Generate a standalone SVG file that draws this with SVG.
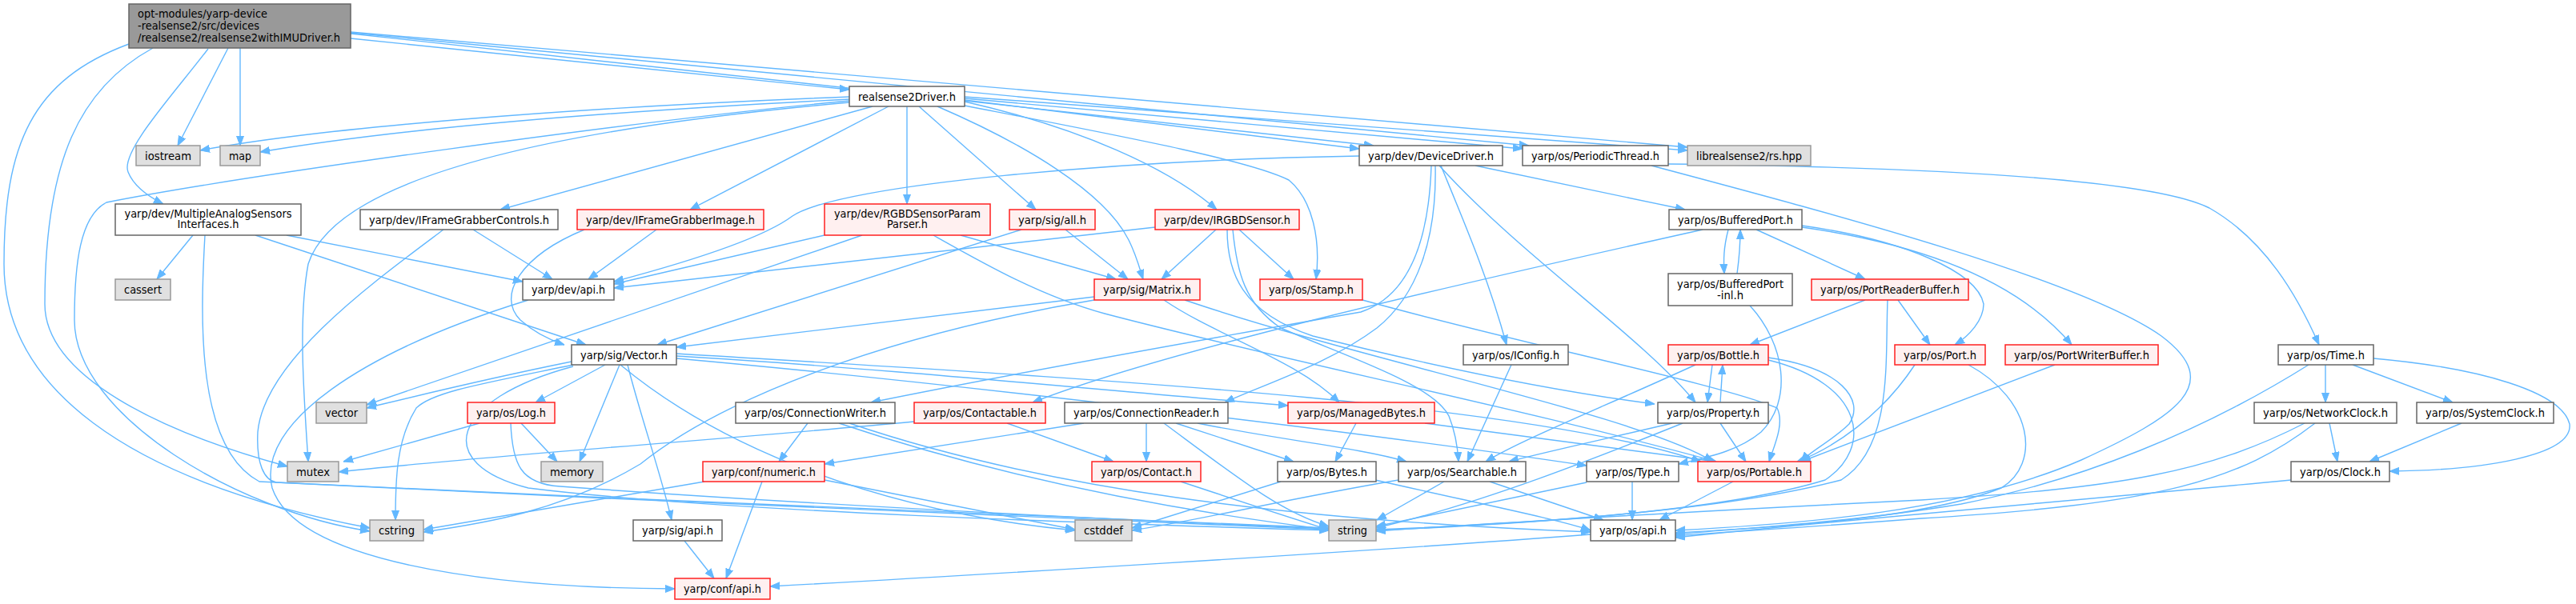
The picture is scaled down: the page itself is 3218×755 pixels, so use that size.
<svg xmlns="http://www.w3.org/2000/svg" width="3218" height="755" viewBox="0 0 3218 755">
<style>
.bg{fill:#ffffff}
.e path{fill:none;stroke:#63b8ff;stroke-width:1.4;marker-end:url(#ah)}
.n{fill:#ffffff;stroke:#666666;stroke-width:1.5}
.s{fill:#e0e0e0;stroke:#999999;stroke-width:1.5}
.r{fill:#fff0f0;stroke:#ff2020;stroke-width:1.5}
.root{fill:#999999;stroke:#666666;stroke-width:1.5}
text{font-family:"DejaVu Sans Condensed","DejaVu Sans","Liberation Sans",sans-serif;font-size:14px;fill:#000000;text-anchor:middle}
text.l{text-anchor:start}
</style>
<defs>
<marker id="ah" markerWidth="12" markerHeight="10" refX="12" refY="5" orient="auto" markerUnits="userSpaceOnUse">
<path d="M0,0.5 L12,5 L0,9.5 z" fill="#63b8ff" stroke="#63b8ff" stroke-width="1"/>
</marker>
</defs>
<rect class="bg" x="0" y="0" width="3218" height="755"/>
<g id="edges" class="e">
<path d="M438,48 L1061,112"/>
<path d="M438,42 L1716,182"/>
<path d="M438,41 L1910,182"/>
<path d="M438,40 L2108,184"/>
<path d="M285,60 L222,182"/>
<path d="M300,60 L300,182"/>
<path d="M260,61 C215,120 150,190 160,215 C168,235 190,248 204,255"/>
<path d="M191,60 C100,110 56,200 56,380 C56,470 200,540 359,583"/>
<path d="M161,55 C40,100 5,180 5,330 C5,480 150,600 462,660"/>
<path d="M1061,121 C700,135 400,160 250,188"/>
<path d="M1061,124 C750,140 500,160 325,190"/>
<path d="M1061,126 C800,150 300,220 133,253 C100,270 93,330 93,400 C93,520 300,640 462,664"/>
<path d="M1061,128 C700,160 420,220 385,330 C372,400 380,500 385,577"/>
<path d="M1090,133 L625,262"/>
<path d="M1110,133 L862,262"/>
<path d="M1133,133 L1133,255"/>
<path d="M1148,133 L1294,262"/>
<path d="M1171,133 C1280,180 1380,240 1410,300 C1420,320 1425,340 1428,349"/>
<path d="M1205,127 C1350,160 1460,210 1520,262"/>
<path d="M1205,125 L1698,186"/>
<path d="M1205,123 L1902,186"/>
<path d="M1205,121 L2108,188"/>
<path d="M1205,132 C1400,170 1560,200 1610,225 C1640,250 1650,300 1644,349"/>
<path d="M241,294 L196,349"/>
<path d="M256,294 C250,400 245,560 324,602 C800,625 1400,650 1660,660"/>
<path d="M319,294 L732,431"/>
<path d="M358,294 L653,352"/>
<path d="M591,287 L690,349"/>
<path d="M554,287 C470,350 330,450 322,540 C320,580 330,600 345,603 C800,626 1400,652 1660,662"/>
<path d="M820,287 L735,349"/>
<path d="M730,287 C650,320 620,370 650,400 C670,418 690,426 705,431"/>
<path d="M1030,294 L767,355"/>
<path d="M1077,294 L458,506"/>
<path d="M1200,294 L1394,349"/>
<path d="M1166,294 C1230,330 1300,370 1380,392 C1600,450 1900,510 2144,577"/>
<path d="M1276,287 L821,431"/>
<path d="M1331,287 L1409,349"/>
<path d="M1443,284 L767,360"/>
<path d="M1519,287 L1451,349"/>
<path d="M1548,287 L1616,349"/>
<path d="M1533,287 C1533,340 1550,390 1640,420 C1800,460 1950,490 2067,505"/>
<path d="M1540,287 C1545,340 1555,380 1600,410 C1680,445 1790,480 1810,520 C1818,540 1821,560 1822,577"/>
<path d="M1367,371 L845,434"/>
<path d="M1367,375 C1100,420 900,500 800,580 C700,640 600,655 529,665"/>
<path d="M1454,375 C1520,420 1620,450 1673,503"/>
<path d="M1480,375 C1700,450 2050,520 2140,577"/>
<path d="M1702,375 C1900,430 2150,480 2220,510 C2230,530 2215,560 2210,577"/>
<path d="M1698,195 C1400,200 1050,230 990,270 C950,300 850,330 767,352"/>
<path d="M1843,207 L2105,262"/>
<path d="M1800,207 C1830,280 1860,350 1882,431"/>
<path d="M1798,207 C1900,320 2050,420 2118,503"/>
<path d="M1788,207 C1785,300 1760,370 1700,390 C1500,425 1250,470 1088,503"/>
<path d="M1793,207 C1795,300 1770,370 1720,410 C1660,455 1580,480 1530,503"/>
<path d="M2127,287 C1800,360 1450,440 1290,503"/>
<path d="M2063,207 C2300,270 2600,350 2700,420 C2780,480 2720,520 2600,575 C2450,640 2250,655 2093,663"/>
<path d="M2084,205 C2500,210 2700,230 2760,260 C2830,300 2870,370 2897,431"/>
<path d="M2159,287 C2153,310 2153,325 2154,342"/>
<path d="M2170,342 C2173,320 2174,300 2174,287"/>
<path d="M2194,287 L2330,349"/>
<path d="M2251,282 C2380,300 2470,340 2478,380 C2478,400 2460,420 2442,431"/>
<path d="M2251,284 C2400,305 2520,350 2588,431"/>
<path d="M2186,382 C2230,430 2240,500 2200,540 C2170,565 2130,572 2097,580"/>
<path d="M2330,375 L2186,431"/>
<path d="M2371,375 L2411,431"/>
<path d="M2358,375 C2355,450 2365,560 2300,600 C2150,640 1900,655 1719,662"/>
<path d="M2392,456 C2350,520 2290,560 2245,577"/>
<path d="M2459,456 C2540,500 2550,580 2500,610 C2400,650 2200,660 2093,666"/>
<path d="M2567,456 L2250,577"/>
<path d="M2884,456 C2750,540 2600,600 2450,630 C2300,655 2150,662 2093,668"/>
<path d="M2905,456 L2905,503"/>
<path d="M2939,456 L3064,503"/>
<path d="M2965,448 C3100,460 3200,490 3210,530 C3215,570 3100,588 2985,589"/>
<path d="M2910,529 L2920,577"/>
<path d="M2879,529 C2760,590 2650,610 2400,625 C2100,640 1850,655 1719,664"/>
<path d="M2892,529 C2800,600 2700,630 2400,648 C2250,660 2150,665 2093,670"/>
<path d="M3075,529 L2960,577"/>
<path d="M2862,600 C2600,625 2300,650 2093,672"/>
<path d="M2139,456 L2133,503"/>
<path d="M2149,503 L2152,456"/>
<path d="M2118,456 C2000,510 1900,550 1856,577"/>
<path d="M2209,447 C2300,460 2330,500 2310,530 C2290,550 2260,565 2250,577"/>
<path d="M2209,450 C2330,480 2340,560 2280,600 C2150,640 1900,655 1719,663"/>
<path d="M2089,529 C2000,550 1930,565 1885,577"/>
<path d="M2149,529 L2181,577"/>
<path d="M2102,529 C2000,570 1850,630 1719,660"/>
<path d="M1888,456 L1833,577"/>
<path d="M1694,529 L1668,577"/>
<path d="M1780,529 L2144,577"/>
<path d="M1804,602 L1720,650"/>
<path d="M1861,602 L2003,650"/>
<path d="M1747,600 C1600,625 1500,650 1414,663"/>
<path d="M1982,603 L1719,658"/>
<path d="M2039,602 L2039,650"/>
<path d="M2165,602 L2073,650"/>
<path d="M1600,602 L1414,660"/>
<path d="M1718,600 C1850,630 1950,650 1987,663"/>
<path d="M1009,529 L973,577"/>
<path d="M1048,529 C1200,580 1400,630 1660,662"/>
<path d="M1061,529 C1300,610 1600,650 1987,665"/>
<path d="M1142,527 C900,550 600,570 423,590"/>
<path d="M1258,529 L1391,577"/>
<path d="M1354,529 L1030,580"/>
<path d="M1432,529 L1432,577"/>
<path d="M1469,529 L1616,577"/>
<path d="M1454,529 C1550,600 1600,640 1660,658"/>
<path d="M1496,529 C1600,550 1700,560 1757,577"/>
<path d="M1475,602 C1560,630 1620,650 1660,662"/>
<path d="M880,602 L529,662"/>
<path d="M1030,600 L1343,662"/>
<path d="M952,602 L907,723"/>
<path d="M855,676 L892,723"/>
<path d="M1987,668 C1700,690 1200,720 962,733"/>
<path d="M660,375 C450,440 320,530 340,610 C370,700 600,735 843,736"/>
<path d="M714,452 C600,475 520,495 458,510"/>
<path d="M716,456 C600,480 540,490 520,510 C495,550 494,600 494,650"/>
<path d="M756,456 L669,503"/>
<path d="M774,456 L724,577"/>
<path d="M784,456 C800,520 825,590 839,650"/>
<path d="M716,458 C560,500 540,580 660,610 C900,640 1400,655 1660,663"/>
<path d="M845,445 C1100,460 1400,490 1609,507"/>
<path d="M845,442 C1300,470 1900,500 2125,577"/>
<path d="M845,448 C1200,480 1700,540 1982,582"/>
<path d="M775,456 C900,560 1100,640 1343,663"/>
<path d="M599,529 L429,577"/>
<path d="M651,529 L696,577"/>
<path d="M638,529 C640,580 650,605 700,608 C1000,630 1400,650 1660,661"/>
</g>
<g id="n_root"><rect class="root" x="161" y="5" width="277" height="55"/><text class="l" x="172" y="22" textLength="162" lengthAdjust="spacingAndGlyphs">opt-modules/yarp-device</text><text class="l" x="172" y="37" textLength="152" lengthAdjust="spacingAndGlyphs">-realsense2/src/devices</text><text class="l" x="172" y="52" textLength="253" lengthAdjust="spacingAndGlyphs">/realsense2/realsense2withIMUDriver.h</text></g>
<g id="n_rs2drv"><rect class="n" x="1061" y="108" width="144" height="25"/><text x="1133" y="125.5" textLength="122" lengthAdjust="spacingAndGlyphs">realsense2Driver.h</text></g>
<g id="n_iostream"><rect class="s" x="170" y="182" width="80" height="25"/><text x="210" y="199.5" textLength="58" lengthAdjust="spacingAndGlyphs">iostream</text></g>
<g id="n_map"><rect class="s" x="275" y="182" width="50" height="25"/><text x="300" y="199.5" textLength="28" lengthAdjust="spacingAndGlyphs">map</text></g>
<g id="n_devicedriver"><rect class="n" x="1698" y="182" width="179" height="25"/><text x="1787.5" y="199.5" textLength="157" lengthAdjust="spacingAndGlyphs">yarp/dev/DeviceDriver.h</text></g>
<g id="n_periodicthread"><rect class="n" x="1902" y="182" width="182" height="25"/><text x="1993" y="199.5" textLength="160" lengthAdjust="spacingAndGlyphs">yarp/os/PeriodicThread.h</text></g>
<g id="n_rshpp"><rect class="s" x="2108" y="182" width="154" height="25"/><text x="2185" y="199.5" textLength="132" lengthAdjust="spacingAndGlyphs">librealsense2/rs.hpp</text></g>
<g id="n_mas"><rect class="n" x="144" y="255" width="232" height="39"/><text x="260" y="272" textLength="209" lengthAdjust="spacingAndGlyphs">yarp/dev/MultipleAnalogSensors</text><text x="260" y="285" textLength="77" lengthAdjust="spacingAndGlyphs">Interfaces.h</text></g>
<g id="n_ifgc"><rect class="n" x="450" y="262" width="247" height="25"/><text x="573.5" y="279.5" textLength="225" lengthAdjust="spacingAndGlyphs">yarp/dev/IFrameGrabberControls.h</text></g>
<g id="n_ifgi"><rect class="r" x="721" y="262" width="233" height="25"/><text x="837.5" y="279.5" textLength="211" lengthAdjust="spacingAndGlyphs">yarp/dev/IFrameGrabberImage.h</text></g>
<g id="n_rgbdpp"><rect class="r" x="1030" y="255" width="207" height="39"/><text x="1133.5" y="272" textLength="183" lengthAdjust="spacingAndGlyphs">yarp/dev/RGBDSensorParam</text><text x="1133.5" y="285" textLength="51" lengthAdjust="spacingAndGlyphs">Parser.h</text></g>
<g id="n_sigall"><rect class="r" x="1261" y="262" width="107" height="25"/><text x="1314.5" y="279.5" textLength="85" lengthAdjust="spacingAndGlyphs">yarp/sig/all.h</text></g>
<g id="n_irgbd"><rect class="r" x="1443" y="262" width="180" height="25"/><text x="1533" y="279.5" textLength="158" lengthAdjust="spacingAndGlyphs">yarp/dev/IRGBDSensor.h</text></g>
<g id="n_bufferedport"><rect class="n" x="2085" y="262" width="166" height="25"/><text x="2168" y="279.5" textLength="144" lengthAdjust="spacingAndGlyphs">yarp/os/BufferedPort.h</text></g>
<g id="n_cassert"><rect class="s" x="144" y="349" width="69" height="26"/><text x="178.5" y="367" textLength="47" lengthAdjust="spacingAndGlyphs">cassert</text></g>
<g id="n_devapi"><rect class="n" x="653" y="349" width="114" height="26"/><text x="710" y="367" textLength="92" lengthAdjust="spacingAndGlyphs">yarp/dev/api.h</text></g>
<g id="n_matrix"><rect class="r" x="1367" y="349" width="132" height="26"/><text x="1433" y="367" textLength="110" lengthAdjust="spacingAndGlyphs">yarp/sig/Matrix.h</text></g>
<g id="n_stamp"><rect class="r" x="1574" y="349" width="128" height="26"/><text x="1638" y="367" textLength="106" lengthAdjust="spacingAndGlyphs">yarp/os/Stamp.h</text></g>
<g id="n_bpinl"><rect class="n" x="2084" y="342" width="155" height="40"/><text x="2161.5" y="360" textLength="133" lengthAdjust="spacingAndGlyphs">yarp/os/BufferedPort</text><text x="2161.5" y="374" textLength="33" lengthAdjust="spacingAndGlyphs">-inl.h</text></g>
<g id="n_prb"><rect class="r" x="2263" y="349" width="196" height="26"/><text x="2361" y="367" textLength="174" lengthAdjust="spacingAndGlyphs">yarp/os/PortReaderBuffer.h</text></g>
<g id="n_vector_h"><rect class="n" x="714" y="431" width="131" height="25"/><text x="779.5" y="448.5" textLength="109" lengthAdjust="spacingAndGlyphs">yarp/sig/Vector.h</text></g>
<g id="n_iconfig"><rect class="n" x="1828" y="431" width="131" height="25"/><text x="1893.5" y="448.5" textLength="109" lengthAdjust="spacingAndGlyphs">yarp/os/IConfig.h</text></g>
<g id="n_bottle"><rect class="r" x="2084" y="431" width="125" height="25"/><text x="2146.5" y="448.5" textLength="103" lengthAdjust="spacingAndGlyphs">yarp/os/Bottle.h</text></g>
<g id="n_port"><rect class="r" x="2367" y="431" width="113" height="25"/><text x="2423.5" y="448.5" textLength="91" lengthAdjust="spacingAndGlyphs">yarp/os/Port.h</text></g>
<g id="n_pwb"><rect class="r" x="2505" y="431" width="191" height="25"/><text x="2600.5" y="448.5" textLength="169" lengthAdjust="spacingAndGlyphs">yarp/os/PortWriterBuffer.h</text></g>
<g id="n_time"><rect class="n" x="2846" y="431" width="119" height="25"/><text x="2905.5" y="448.5" textLength="97" lengthAdjust="spacingAndGlyphs">yarp/os/Time.h</text></g>
<g id="n_vector"><rect class="s" x="395" y="503" width="63" height="26"/><text x="426.5" y="521" textLength="41" lengthAdjust="spacingAndGlyphs">vector</text></g>
<g id="n_log"><rect class="r" x="584" y="503" width="109" height="26"/><text x="638.5" y="521" textLength="87" lengthAdjust="spacingAndGlyphs">yarp/os/Log.h</text></g>
<g id="n_cw"><rect class="n" x="919" y="503" width="199" height="26"/><text x="1018.5" y="521" textLength="177" lengthAdjust="spacingAndGlyphs">yarp/os/ConnectionWriter.h</text></g>
<g id="n_contactable"><rect class="r" x="1142" y="503" width="164" height="26"/><text x="1224" y="521" textLength="142" lengthAdjust="spacingAndGlyphs">yarp/os/Contactable.h</text></g>
<g id="n_cr"><rect class="n" x="1330" y="503" width="204" height="26"/><text x="1432" y="521" textLength="182" lengthAdjust="spacingAndGlyphs">yarp/os/ConnectionReader.h</text></g>
<g id="n_mb"><rect class="r" x="1609" y="503" width="183" height="26"/><text x="1700.5" y="521" textLength="161" lengthAdjust="spacingAndGlyphs">yarp/os/ManagedBytes.h</text></g>
<g id="n_property"><rect class="n" x="2071" y="503" width="138" height="26"/><text x="2140" y="521" textLength="116" lengthAdjust="spacingAndGlyphs">yarp/os/Property.h</text></g>
<g id="n_networkclock"><rect class="n" x="2816" y="503" width="178" height="26"/><text x="2905" y="521" textLength="156" lengthAdjust="spacingAndGlyphs">yarp/os/NetworkClock.h</text></g>
<g id="n_systemclock"><rect class="n" x="3019" y="503" width="171" height="26"/><text x="3104.5" y="521" textLength="149" lengthAdjust="spacingAndGlyphs">yarp/os/SystemClock.h</text></g>
<g id="n_mutex"><rect class="s" x="359" y="577" width="64" height="25"/><text x="391" y="594.5" textLength="42" lengthAdjust="spacingAndGlyphs">mutex</text></g>
<g id="n_memory"><rect class="s" x="676" y="577" width="77" height="25"/><text x="714.5" y="594.5" textLength="55" lengthAdjust="spacingAndGlyphs">memory</text></g>
<g id="n_numeric"><rect class="r" x="878" y="577" width="152" height="25"/><text x="954" y="594.5" textLength="130" lengthAdjust="spacingAndGlyphs">yarp/conf/numeric.h</text></g>
<g id="n_contact"><rect class="r" x="1364" y="577" width="136" height="25"/><text x="1432" y="594.5" textLength="114" lengthAdjust="spacingAndGlyphs">yarp/os/Contact.h</text></g>
<g id="n_bytes"><rect class="n" x="1596" y="577" width="123" height="25"/><text x="1657.5" y="594.5" textLength="101" lengthAdjust="spacingAndGlyphs">yarp/os/Bytes.h</text></g>
<g id="n_searchable"><rect class="n" x="1747" y="577" width="159" height="25"/><text x="1826.5" y="594.5" textLength="137" lengthAdjust="spacingAndGlyphs">yarp/os/Searchable.h</text></g>
<g id="n_type"><rect class="n" x="1982" y="577" width="115" height="25"/><text x="2039.5" y="594.5" textLength="93" lengthAdjust="spacingAndGlyphs">yarp/os/Type.h</text></g>
<g id="n_portable"><rect class="r" x="2121" y="577" width="141" height="25"/><text x="2191.5" y="594.5" textLength="119" lengthAdjust="spacingAndGlyphs">yarp/os/Portable.h</text></g>
<g id="n_clock"><rect class="n" x="2862" y="577" width="123" height="25"/><text x="2923.5" y="594.5" textLength="101" lengthAdjust="spacingAndGlyphs">yarp/os/Clock.h</text></g>
<g id="n_cstring"><rect class="s" x="462" y="650" width="67" height="26"/><text x="495.5" y="668" textLength="45" lengthAdjust="spacingAndGlyphs">cstring</text></g>
<g id="n_sigapi"><rect class="n" x="791" y="650" width="111" height="26"/><text x="846.5" y="668" textLength="89" lengthAdjust="spacingAndGlyphs">yarp/sig/api.h</text></g>
<g id="n_cstddef"><rect class="s" x="1343" y="650" width="71" height="26"/><text x="1378.5" y="668" textLength="49" lengthAdjust="spacingAndGlyphs">cstddef</text></g>
<g id="n_string"><rect class="s" x="1660" y="650" width="59" height="26"/><text x="1689.5" y="668" textLength="37" lengthAdjust="spacingAndGlyphs">string</text></g>
<g id="n_osapi"><rect class="n" x="1987" y="650" width="106" height="26"/><text x="2040" y="668" textLength="84" lengthAdjust="spacingAndGlyphs">yarp/os/api.h</text></g>
<g id="n_confapi"><rect class="r" x="843" y="723" width="119" height="26"/><text x="902.5" y="741" textLength="97" lengthAdjust="spacingAndGlyphs">yarp/conf/api.h</text></g>
</svg>
